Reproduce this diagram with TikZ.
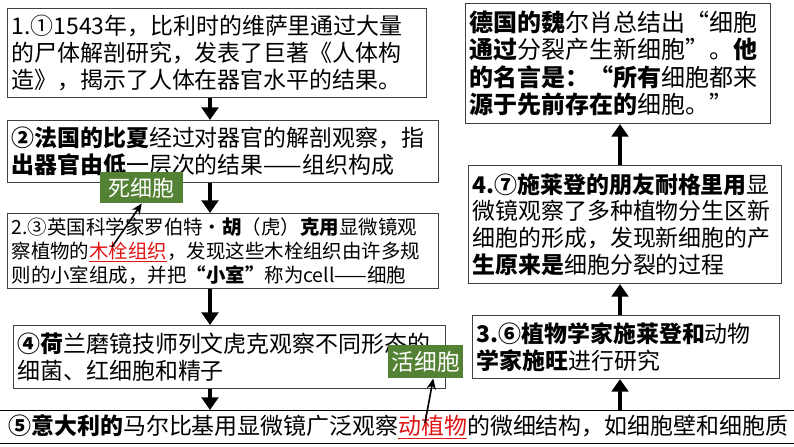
\documentclass[tikz,border=0pt]{standalone}
\usepackage{fontspec}
\setmainfont{Noto Sans CJK SC}
\usetikzlibrary{arrows.meta}
\definecolor{tagGreen}{RGB}{84,130,53}
\definecolor{markRed}{RGB}{225,20,20}
\tikzset{box/.style={draw=black!75,fill=white,line width=0.8pt,anchor=north west,align=left,inner xsep=3pt,inner ysep=0pt,font=\fontsize{17.2}{20}\selectfont}}
\tikzset{tag/.style={fill=tagGreen,text=white,anchor=north west,inner sep=0pt,font=\fontsize{16.5}{18}\selectfont}}
\tikzset{bigedge/.style={-{Triangle[length=9.5pt,width=12.5pt]},line width=3pt}}
\tikzset{thinedge/.style={-{Stealth[length=8pt,width=7pt]},line width=1.2pt}}
\newcommand{\hot}[1]{\textcolor{markRed}{\underline{#1}}}

\begin{document}
\begin{tikzpicture}[x=0.75pt,y=-0.75pt]
  \useasboundingbox (0,0) rectangle (794,447);
  \clip (0,0) rectangle (794,447);
  \fill[white] (0,0) rectangle (794,447);
  \node[box,text width=308.25pt,minimum width=314.25pt,minimum height=66.75pt] (vesalius) at (7,8)
    {1.①1543年，比利时的维萨里通过大量\\的尸体解剖研究，发表了巨著《人体构\\造》，揭示了人体在器官水平的结果。};
  \node[box,text width=317.25pt,minimum width=323.25pt,minimum height=46.5pt] (bichat) at (7,120)
    {\textbf{②法国的比夏}经过对器官的解剖观察，指\\\textbf{出器官由低}一层次的结果——组织构成};
  \node[box,text width=317.25pt,minimum width=323.25pt,minimum height=56.25pt,font=\fontsize{14.6}{18}\selectfont] (hooke) at (7,213)
    {2.③英国科学家罗伯特·\textbf{胡}（虎）\textbf{克用}显微镜观\\察植物的\hot{木栓组织}，发现这些木栓组织由许多规\\则的小室组成，并把\textbf{“小室”}称为cell——细胞};
  \node[box,text width=318pt,minimum width=324pt,minimum height=47.25pt] (leeuwenhoek) at (13,325)
    {\textbf{④荷}兰磨镜技师列文虎克观察不同形态的\\细菌、红细胞和精子};
  \node[box,draw=black,inner xsep=8.25pt,text width=591pt,minimum width=607.5pt,minimum height=24.75pt] (malpighi) at (-3,410)
    {\textbf{⑤意大利的}马尔比基用显微镜广泛观察\hot{动植物}的微细结构，如细胞壁和细胞质};
  \node[box,text width=224.25pt,minimum width=230.25pt,minimum height=47.25pt] (schleiden) at (472,315)
    {\textbf{3.⑥植物学家施莱登和}动物\\\textbf{学家施旺}进行研究};
  \node[box,text width=228.75pt,minimum width=234.75pt,minimum height=88.5pt] (naegeli) at (468,165)
    {\textbf{4.⑦施莱登的朋友耐格里用}显\\微镜观察了多种植物分生区新\\细胞的形成，发现新细胞的产\\\textbf{生原来是}细胞分裂的过程};
  \node[box,text width=222.75pt,minimum width=228.75pt,minimum height=90pt,font=\fontsize{18}{20.5}\selectfont] (virchow) at (465,3)
    {\textbf{德国的魏}尔肖总结出“细胞\\\textbf{通过}分裂产生新细胞”。\textbf{他}\\\textbf{的名言是：“所有}细胞都来\\\textbf{源于先前存在的}细胞。”};
  \node[tag,minimum width=62.25pt,minimum height=23.25pt] (dead) at (100,172) {死细胞};
  \node[tag,minimum width=56.25pt,minimum height=24.75pt,font=\fontsize{17}{18}\selectfont] (live) at (388,345) {活细胞};
  \coordinate (leftx) at (210,0);
  \coordinate (rightx) at (620,0);
  \coordinate (cork) at (112,247);
  \coordinate (plants) at (425,423);
  \draw[bigedge] (vesalius.south -| leftx) -- (bichat.north -| leftx);
  \draw[bigedge] (bichat.south -| leftx) -- (hooke.north -| leftx);
  \draw[bigedge] (hooke.south -| leftx) -- (leeuwenhoek.north -| leftx);
  \draw[bigedge] (leeuwenhoek.south -| leftx) -- (malpighi.north -| leftx);
  \draw[bigedge] (malpighi.north -| rightx) -- (schleiden.south -| rightx);
  \draw[bigedge] (schleiden.north -| rightx) -- (naegeli.south -| rightx);
  \draw[bigedge] (naegeli.north -| rightx) -- (virchow.south -| rightx);
  \draw[thinedge] (cork) -- (dead.south);
  \draw[thinedge] (plants) -- ([xshift=5.6pt]live.south);
\end{tikzpicture}
\end{document}
